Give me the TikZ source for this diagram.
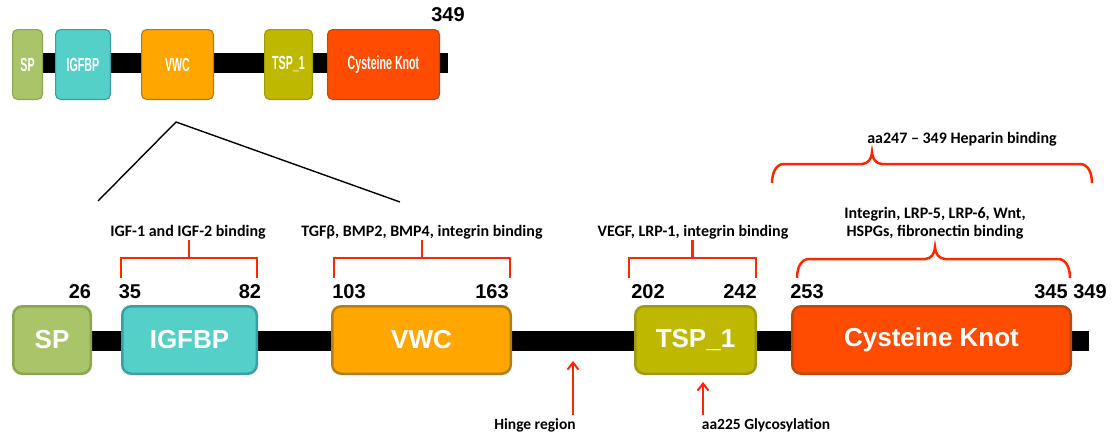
\documentclass[tikz,border=0pt]{standalone}
\usepackage{fontspec}
\usepackage{graphicx}
\setmainfont{Liberation Sans}
\newfontfamily\calib{Carlito}
\usetikzlibrary{arrows.meta,calc}
\definecolor{spgreen}{RGB}{170,196,106}
\definecolor{spedge}{RGB}{138,166,78}
\definecolor{igfcyan}{RGB}{84,208,200}
\definecolor{igfedge}{RGB}{56,158,168}
\definecolor{vwcorange}{RGB}{255,166,0}
\definecolor{vwcedge}{RGB}{178,126,28}
\definecolor{tspolive}{RGB}{190,184,0}
\definecolor{tspedge}{RGB}{158,154,18}
\definecolor{ckred}{RGB}{255,76,0}
\definecolor{ckedge}{RGB}{186,74,18}
\definecolor{bindred}{RGB}{255,38,0}
\newcommand\narrow[1]{\scalebox{0.56}[1]{#1}}

\begin{document}
\begin{tikzpicture}[x=1pt,y=1pt,
  dom/.style={draw,line width=2.5pt,rounded corners=9pt,inner sep=0pt,minimum height=67.5pt,text=white,font=\fontsize{26}{26}\selectfont\bfseries},
  mini/.style={draw,line width=1.2pt,rounded corners=5pt,inner sep=0pt,minimum height=69.8pt,text=white,font=\fontsize{19}{19}\selectfont\bfseries},
  num/.style={font=\fontsize{20}{20}\selectfont\bfseries},
  lab/.style={font=\calib\fontsize{16}{18}\selectfont\bfseries,align=center},
  labs/.style={font=\calib\fontsize{15.5}{17}\selectfont\bfseries},
  brk/.style={bindred,line width=2.5pt},
  arr/.style={-{Straight Barb[length=7pt,width=11pt,line width=2pt]},bindred,line width=2.5pt},
  zoomln/.style={line width=1.4pt}]
\useasboundingbox (0,0) rectangle (1117,-437);
% overview on top
\fill (20,-53) rectangle (448,-73);
\node[mini,fill=spgreen,draw=spedge,minimum width=29.8pt] (msp) at (27.5,-64.5) {\narrow{SP}};
\node[mini,fill=igfcyan,draw=igfedge,minimum width=54.8pt] (migf) at (83,-64.5) {\narrow{IGFBP}};
\node[mini,fill=vwcorange,draw=vwcedge,minimum width=71.8pt] (mvwc) at (177.5,-64.5) {\narrow{VWC}};
\node[mini,fill=tspolive,draw=tspedge,minimum width=47.8pt] (mtsp) at (288.5,-64.5) {\narrow{TSP\_1}};
\node[mini,fill=ckred,draw=ckedge,minimum width=111.8pt] (mck) at (383.5,-64.5) {\narrow{Cysteine Knot}};
\node[num] (mend) at (448,-15) {349};
\coordinate (za) at (176,-122);
\coordinate (zl) at (98,-201);
\coordinate (zr) at (400,-202);
\draw[zoomln] (zl) -- (za) -- (zr);
% expanded protein
\fill (50,-331) rectangle (1089,-351);
\node[dom,fill=spgreen,draw=spedge,minimum width=77.5pt] (sp) at (52,-340) {SP};
\node[dom,fill=igfcyan,draw=igfedge,minimum width=134.5pt] (igf) at (189.5,-340) {IGFBP};
\node[dom,fill=vwcorange,draw=vwcedge,minimum width=178.5pt] (vwc) at (421.5,-340) {VWC};
\node[dom,fill=tspolive,draw=tspedge,minimum width=120.5pt] (tsp) at (695.5,-340) {TSP\_1};
\node[dom,fill=ckred,draw=ckedge,minimum width=278.5pt] (ck) at (931.5,-340) {Cysteine Knot};
\foreach \t/\x in {26/80,35/130,82/250,103/349,163/492,202/648,242/740,253/807,345/1051,349/1090}
  \node[num] (n\t) at (\x,-292) {\t};
% binding sites
\foreach \l/\r in {121/257,334/510,629/756} {
  \draw[brk] (\l,-278) |- (\r,-258) -- (\r,-278);
  \draw[brk] ({(\l+\r)/2},-258) -- ++(0,18);
}
\node[lab] (igflab) at (188,-232) {IGF-1 and IGF-2 binding};
\node[lab] (tgflab) at (422,-232) {TGFβ, BMP2, BMP4, integrin binding};
\node[lab] (vegflab) at (693,-232) {VEGF, LRP-1, integrin binding};
\node[lab] (intlab) at (935,-223) {Integrin, LRP-5, LRP-6, Wnt,\\HSPGs, fibronectin binding};
\node[lab] (heplab) at (962,-139) {aa247 – 349 Heparin binding};
\draw[brk] (797,-278) to[out=90,in=180] (809,-259) -- (925,-259) to[out=0,in=-90] (935,-247)
  to[out=-90,in=180] (945,-259) -- (1058,-259) to[out=0,in=90] (1070,-278);
\draw[brk] (772,-183) to[out=90,in=180] (784,-164) -- (862,-164) to[out=0,in=-90] (872,-152)
  to[out=-90,in=180] (882,-164) -- (1080,-164) to[out=0,in=90] (1092,-183);
% arrows below
\coordinate (hinge) at (573,-361);
\coordinate (glyc) at (703,-382);
\node[labs] (hingelab) at (535,-425) {Hinge region};
\node[labs] (glylab) at (766,-425) {aa225 Glycosylation};
\draw[arr] (hingelab.north -| hinge) -- (hinge);
\draw[arr] (glylab.north -| glyc) -- (glyc);
\end{tikzpicture}
\end{document}
